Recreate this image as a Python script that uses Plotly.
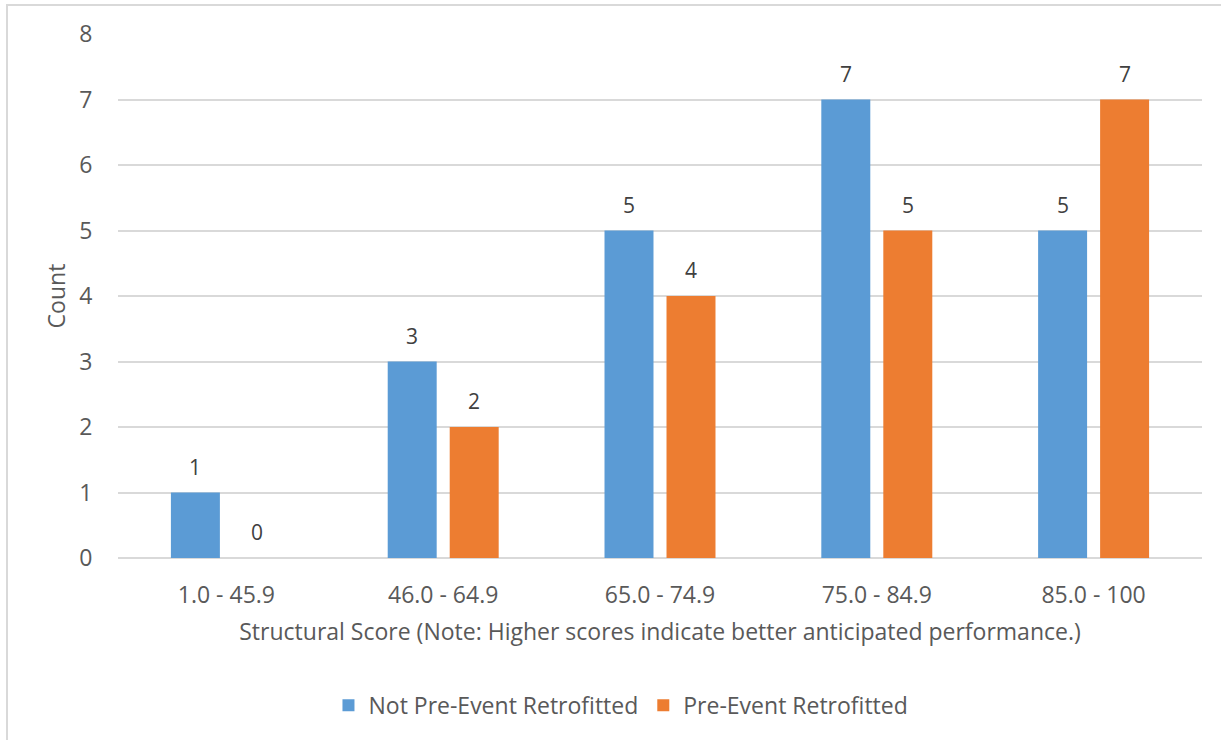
import plotly.graph_objects as go

# Score bands and building counts per retrofit status
categories = ["1.0 - 45.9", "46.0 - 64.9", "65.0 - 74.9", "75.0 - 84.9", "85.0 - 100"]
not_retrofitted = [1, 3, 5, 7, 5]
retrofitted = [0, 2, 4, 5, 7]
y_ticks = [0, 1, 2, 3, 4, 5, 6, 7, 8]

BLUE = "#5B9BD5"
ORANGE = "#ED7D31"
GRID = "#D9D9D9"
FONT = "Open Sans"

fig = go.Figure()
fig.add_trace(go.Bar(name="Not Pre-Event Retrofitted", x=categories, y=not_retrofitted,
                     marker=dict(color=BLUE, line=dict(width=0))))
fig.add_trace(go.Bar(name="Pre-Event Retrofitted", x=categories, y=retrofitted,
                     marker=dict(color=ORANGE, line=dict(width=0))))

# Value labels above each bar, shifted onto the left/right bar of each group
annotations = []
for vals, shift in ((not_retrofitted, -31), (retrofitted, 31)):
    for cat, v in zip(categories, vals):
        annotations.append(dict(x=cat, y=v, xref="x", yref="y", text=str(v),
                                showarrow=False, xshift=shift, yshift=26,
                                yanchor="middle",
                                font=dict(family=FONT, size=21, color="#404040")))

fig.update_layout(
    width=1221, height=740,
    margin=dict(l=118, r=19, t=34, b=182, autoexpand=False),
    paper_bgcolor="white", plot_bgcolor="white",
    barmode="group", bargap=0.428, bargroupgap=0.21,
    font=dict(family=FONT, color="#595959"),
    showlegend=True,
    legend=dict(orientation="h", x=0.464, xanchor="center", y=-0.281, yanchor="middle",
                font=dict(family=FONT, size=23, color="#595959"),
                itemwidth=30, tracegroupgap=0, traceorder="normal"),
    annotations=annotations,
    shapes=[dict(type="rect", xref="paper", yref="paper",
                 x0=-0.1024, x1=1.03, y0=-0.37, y1=1.0553,
                 line=dict(color=GRID, width=2), fillcolor="rgba(0,0,0,0)", layer="below")],
)

fig.update_xaxes(
    showgrid=False, showline=False, zeroline=False,
    ticks="outside", ticklen=16, tickcolor="rgba(0,0,0,0)",
    tickfont=dict(family=FONT, size=23, color="#595959"),
    title=dict(text="Structural Score (Note: Higher scores indicate better anticipated performance.)",
               font=dict(family=FONT, size=23, color="#595959"), standoff=15),
)
fig.update_yaxes(
    range=[0, 8], tickvals=y_ticks, showgrid=True, gridcolor=GRID, gridwidth=1.5,
    zeroline=True, zerolinecolor=GRID, zerolinewidth=1.5, showline=False,
    ticks="outside", ticklen=20, tickcolor="rgba(0,0,0,0)",
    tickfont=dict(family=FONT, size=23, color="#595959"),
    title=dict(text="Count", font=dict(family=FONT, size=23, color="#595959"), standoff=7),
)

fig.write_html("out.html")
